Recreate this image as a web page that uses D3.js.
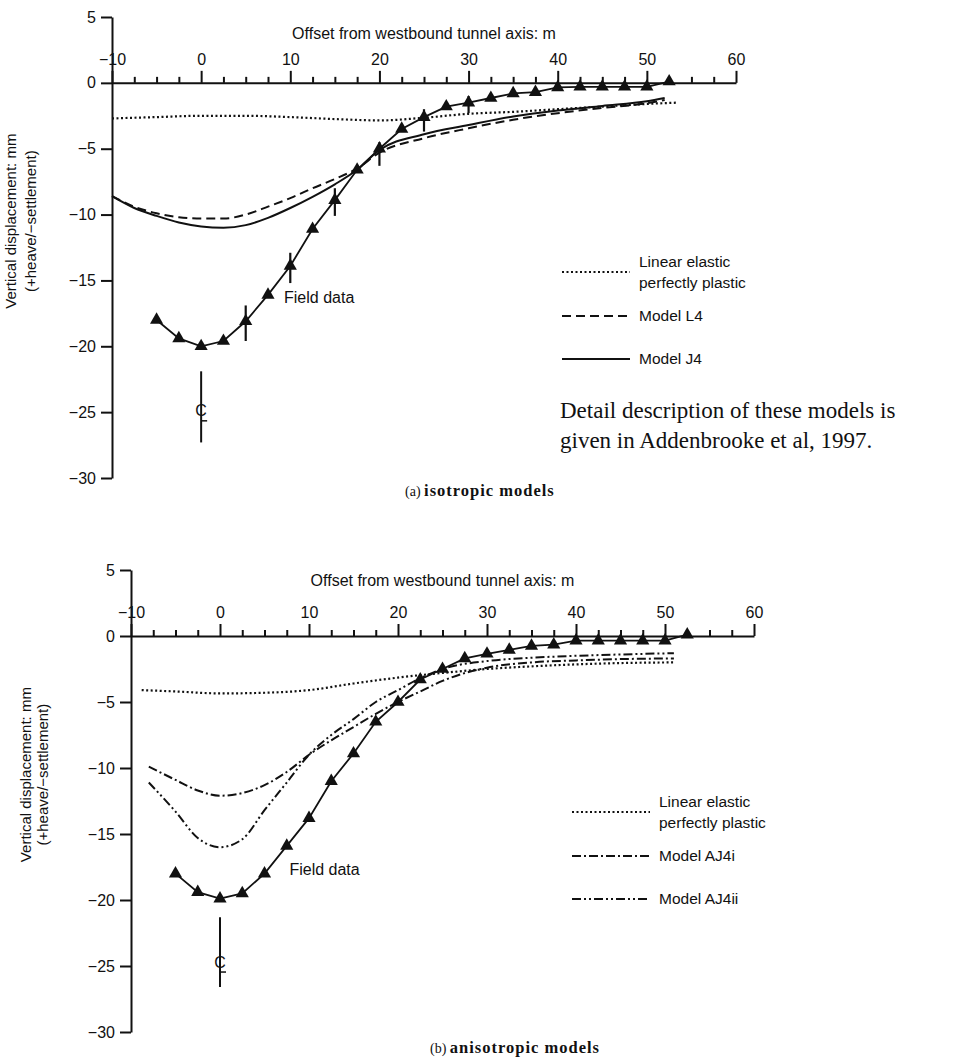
<!DOCTYPE html>
<html>
<head>
<meta charset="utf-8">
<script src="https://cdn.jsdelivr.net/npm/d3@7"></script>
<style>
  body { margin: 0; background: #fff; }
  text { font-family: "Liberation Sans", Arial, sans-serif; fill: #111; }
  .axis path, .axis line { stroke: #111; stroke-width: 2; }
  .axis text { font-family: "Liberation Sans", Arial, sans-serif; font-size: 16px; fill: #111; }
  .serif { font-family: "Liberation Serif", "Times New Roman", serif; }
</style>
</head>
<body>
<svg width="979" height="1060"></svg>
<script>
// axis ticks
var xMajor = [-10, 0, 10, 20, 30, 40, 50, 60],
    xMinor = d3.range(-10, 60.1, 2.5).filter(function(d) { return d % 10 !== 0; }),
    yTicks = [5, 0, -5, -10, -15, -20, -25, -30];

// field data (same survey in both panels)
var fieldX = [-5, -2.5, 0, 2.5, 5, 7.5, 10, 12.5, 15, 17.5, 20, 22.5, 25, 27.5, 30, 32.5, 35, 37.5, 40, 42.5, 45, 47.5, 50, 52.5];
var fieldTop = [-18.0, -19.4, -20.0, -19.6, -18.1, -16.1, -13.9, -11.1, -8.9, -6.6, -5.0, -3.5, -2.6, -1.8, -1.5, -1.15, -0.8, -0.7, -0.35, -0.3, -0.3, -0.3, -0.3, 0.1];
var fieldBottom = [-18.0, -19.4, -19.9, -19.5, -18.0, -15.9, -13.8, -11.0, -8.9, -6.5, -5.0, -3.3, -2.5, -1.7, -1.35, -1.05, -0.75, -0.65, -0.35, -0.35, -0.35, -0.35, -0.35, 0.1];

// scatter bars on field data (top panel only)
var errX = [5, 10, 15, 20, 25, 30],
    errLo = [-19.6, -15.2, -10.1, -6.3, -3.7, -2.3],
    errHi = [-16.9, -12.9, -8.0, -4.5, -2.0, -1.0];

// (a) isotropic models
var lepTopX = [-10, -5, 0, 5, 10, 15, 20, 25, 30, 35, 40, 45, 50, 53.5],
    lepTop = [-2.7, -2.6, -2.5, -2.5, -2.6, -2.75, -2.85, -2.65, -2.35, -2.2, -2.0, -1.8, -1.6, -1.5];
var modelTopX = [-10, -7.5, -5, -2.5, 0, 2.5, 5, 7.5, 10, 12.5, 15, 17.5, 20, 25, 30, 35, 40, 45, 50, 52];
var l4 = [-8.6, -9.4, -9.9, -10.2, -10.3, -10.3, -10.0, -9.4, -8.75, -8.0, -7.3, -6.5, -5.3, -4.2, -3.45, -2.8, -2.3, -1.9, -1.55, -1.3];
var j4 = [-8.6, -9.5, -10.1, -10.6, -10.9, -11.0, -10.8, -10.25, -9.5, -8.65, -7.7, -6.6, -5.1, -3.9, -3.2, -2.55, -2.1, -1.75, -1.4, -1.15];

// (b) anisotropic models
var lepBotX = [-8.8, -5, 0, 5, 10, 15, 20, 25, 30, 35, 40, 45, 51],
    lepBot = [-4.1, -4.2, -4.35, -4.3, -4.1, -3.6, -3.15, -2.8, -2.5, -2.3, -2.15, -2.05, -2.0];
var modelBotX = [-8, -5, -2.5, 0, 2.5, 5, 7.5, 10, 12.5, 15, 17.5, 20, 22.5, 25, 30, 35, 40, 45, 51];
var aj4i = [-9.9, -10.9, -11.7, -12.1, -11.9, -11.3, -10.3, -9.0, -7.9, -6.9, -5.9, -5.0, -4.2, -3.4, -2.4, -2.0, -1.85, -1.75, -1.7];
var aj4ii = [-11.1, -13.3, -15.3, -16.0, -15.4, -13.2, -11.1, -9.0, -7.5, -6.3, -5.0, -4.1, -3.2, -2.5, -1.9, -1.65, -1.5, -1.4, -1.3];

var svg = d3.select("svg");
svg.append("rect").attr("width", 979).attr("height", 1060).attr("fill", "#fff");

var DOT = "2,2.5", DASH = "9,5", DASHDOT = "9,3,2,3", DASHDOT2 = "9,3,2,3,2,3";

function zip(xs, ys) {
    return xs.map(function(d, i) { return [d, ys[i]]; });
}

function drawPanel(p) {
    var x = d3.scaleLinear().domain([-10, 60]).range(p.xRange);
    var y = d3.scaleLinear().domain([5, -30]).range(p.yRange);
    var g = svg.append("g");

    // x axis sits on the zero line, ticks pointing up
    g.append("g")
        .attr("class", "axis")
        .attr("transform", "translate(0," + y(0) + ")")
        .call(d3.axisTop(x).tickValues(xMajor).tickSize(12).tickSizeOuter(0)
            .tickPadding(6).tickFormat(d3.format("d")));

    g.append("g")
        .attr("class", "axis")
        .attr("transform", "translate(0," + y(0) + ")")
        .call(d3.axisTop(x).tickValues(xMinor).tickSize(6).tickFormat(""))
        .select(".domain").remove();

    g.append("g")
        .attr("class", "axis")
        .attr("transform", "translate(" + x(-10) + ",0)")
        .call(d3.axisLeft(y).tickValues(yTicks).tickSize(11).tickSizeOuter(0)
            .tickPadding(5).tickFormat(d3.format("d")));

    g.append("text")
        .attr("x", x(25))
        .attr("y", p.titleY)
        .attr("text-anchor", "middle")
        .style("font-size", "16px")
        .text("Offset from westbound tunnel axis: m");

    var ylab = g.append("text")
        .attr("transform", "translate(" + p.ylabX + "," + y(-10.5) + ")rotate(-90)")
        .attr("text-anchor", "middle")
        .style("font-size", "15px");
    ylab.append("tspan").attr("x", 0).attr("dy", 0).text("Vertical displacement: mm");
    ylab.append("tspan").attr("x", 0).attr("dy", p.ylabGap).text("(+heave/\u2212settlement)");

    var line = d3.line()
        .x(function(d) { return x(d[0]); })
        .y(function(d) { return y(d[1]); });
    var smooth = d3.line()
        .x(function(d) { return x(d[0]); })
        .y(function(d) { return y(d[1]); })
        .curve(d3.curveMonotoneX);

    p.models.forEach(function(m) {
        g.append("path")
            .datum(zip(m.x, m.y))
            .attr("d", smooth)
            .attr("fill", "none")
            .attr("stroke", "#111")
            .attr("stroke-width", m.dash == DOT ? 2.2 : 2)
            .attr("stroke-dasharray", m.dash);
    });

    // field data
    var field = zip(fieldX, p.field);
    g.append("path")
        .datum(field)
        .attr("d", line)
        .attr("fill", "none")
        .attr("stroke", "#111")
        .attr("stroke-width", 1.8);

    if (p.err) {
        g.selectAll(".err")
            .data(errX)
            .enter().append("line")
            .attr("class", "err")
            .attr("x1", function(d) { return x(d); })
            .attr("x2", function(d) { return x(d); })
            .attr("y1", function(d, i) { return y(errLo[i]); })
            .attr("y2", function(d, i) { return y(errHi[i]); })
            .attr("stroke", "#111")
            .attr("stroke-width", 2.2);
    }

    g.selectAll(".tri")
        .data(field)
        .enter().append("path")
        .attr("class", "tri")
        .attr("d", d3.symbol().type(d3.symbolTriangle).size(75))
        .attr("transform", function(d) { return "translate(" + x(d[0]) + "," + y(d[1]) + ")"; })
        .attr("fill", "#111");

    g.append("text")
        .attr("x", x(p.fieldLabel[0]))
        .attr("y", y(p.fieldLabel[1]))
        .attr("dy", "0.35em")
        .style("font-size", "16px")
        .text("Field data");

    // centreline mark
    g.append("line")
        .attr("x1", x(0)).attr("x2", x(0))
        .attr("y1", y(p.cl[0])).attr("y2", y(p.cl[1]))
        .attr("stroke", "#111")
        .attr("stroke-width", 2);
    g.append("text")
        .attr("x", x(0))
        .attr("y", y(p.cl[2]))
        .attr("dy", "0.35em")
        .attr("text-anchor", "middle")
        .style("font-size", "16px")
        .text("C");
    g.append("line")
        .attr("x1", x(0)).attr("x2", x(0) + 6)
        .attr("y1", y(p.cl[2]) + 10).attr("y2", y(p.cl[2]) + 10)
        .attr("stroke", "#111")
        .attr("stroke-width", 1.5);

    // legend
    p.legend.forEach(function(l) {
        g.append("line")
            .attr("x1", p.legX[0]).attr("x2", p.legX[1])
            .attr("y1", l.y).attr("y2", l.y)
            .attr("stroke", "#111")
            .attr("stroke-width", 2)
            .attr("stroke-dasharray", l.dash);
        var t = g.append("text")
            .attr("x", p.legX[1] + 9)
            .attr("y", l.y)
            .style("font-size", "15.5px");
        l.text.forEach(function(s, i) {
            t.append("tspan").attr("x", p.legX[1] + 9)
                .attr("dy", i == 0 ? (l.text.length > 1 ? "-0.3em" : "0.35em") : "1.3em")
                .text(s);
        });
    });

    var cap = g.append("text")
        .attr("class", "serif")
        .attr("x", p.cap[0])
        .attr("y", p.cap[1])
        .style("font-size", "16.5px");
    cap.append("tspan").style("font-size", "14px").text(p.cap[2] + " ");
    cap.append("tspan").attr("font-weight", "bold").style("letter-spacing", "1px").text(p.cap[3]);
}

drawPanel({
    xRange: [112, 736],
    yRange: [17, 478],
    titleY: 39,
    ylabX: 16,
    ylabGap: 20,
    field: fieldTop,
    err: true,
    fieldLabel: [9.3, -16.3],
    cl: [-21.9, -27.3, -24.9],
    models: [
        {x: lepTopX, y: lepTop, dash: DOT},
        {x: modelTopX, y: l4, dash: DASH},
        {x: modelTopX, y: j4, dash: null}
    ],
    legX: [562, 630],
    legend: [
        {y: 272, dash: DOT, text: ["Linear elastic", "perfectly plastic"]},
        {y: 316, dash: DASH, text: ["Model L4"]},
        {y: 359, dash: null, text: ["Model J4"]}
    ],
    cap: [405, 496, "(a)", "isotropic models"]
});

drawPanel({
    xRange: [131, 754],
    yRange: [570, 1032],
    titleY: 586,
    ylabX: 31,
    ylabGap: 17,
    field: fieldBottom,
    err: false,
    fieldLabel: [7.8, -17.7],
    cl: [-21.3, -26.6, -24.7],
    models: [
        {x: lepBotX, y: lepBot, dash: DOT},
        {x: modelBotX, y: aj4i, dash: DASHDOT},
        {x: modelBotX, y: aj4ii, dash: DASHDOT2}
    ],
    legX: [572, 650],
    legend: [
        {y: 812, dash: DOT, text: ["Linear elastic", "perfectly plastic"]},
        {y: 856, dash: DASHDOT, text: ["Model AJ4i"]},
        {y: 899, dash: DASHDOT2, text: ["Model AJ4ii"]}
    ],
    cap: [430, 1053, "(b)", "anisotropic models"]
});

// note next to the top legend
var note = svg.append("text")
    .attr("class", "serif")
    .attr("x", 560)
    .attr("y", 418)
    .style("font-size", "23px");
note.append("tspan").attr("x", 560).text("Detail description of these models is");
note.append("tspan").attr("x", 560).attr("dy", 30).text("given in Addenbrooke et al, 1997.");
</script>
</body>
</html>
